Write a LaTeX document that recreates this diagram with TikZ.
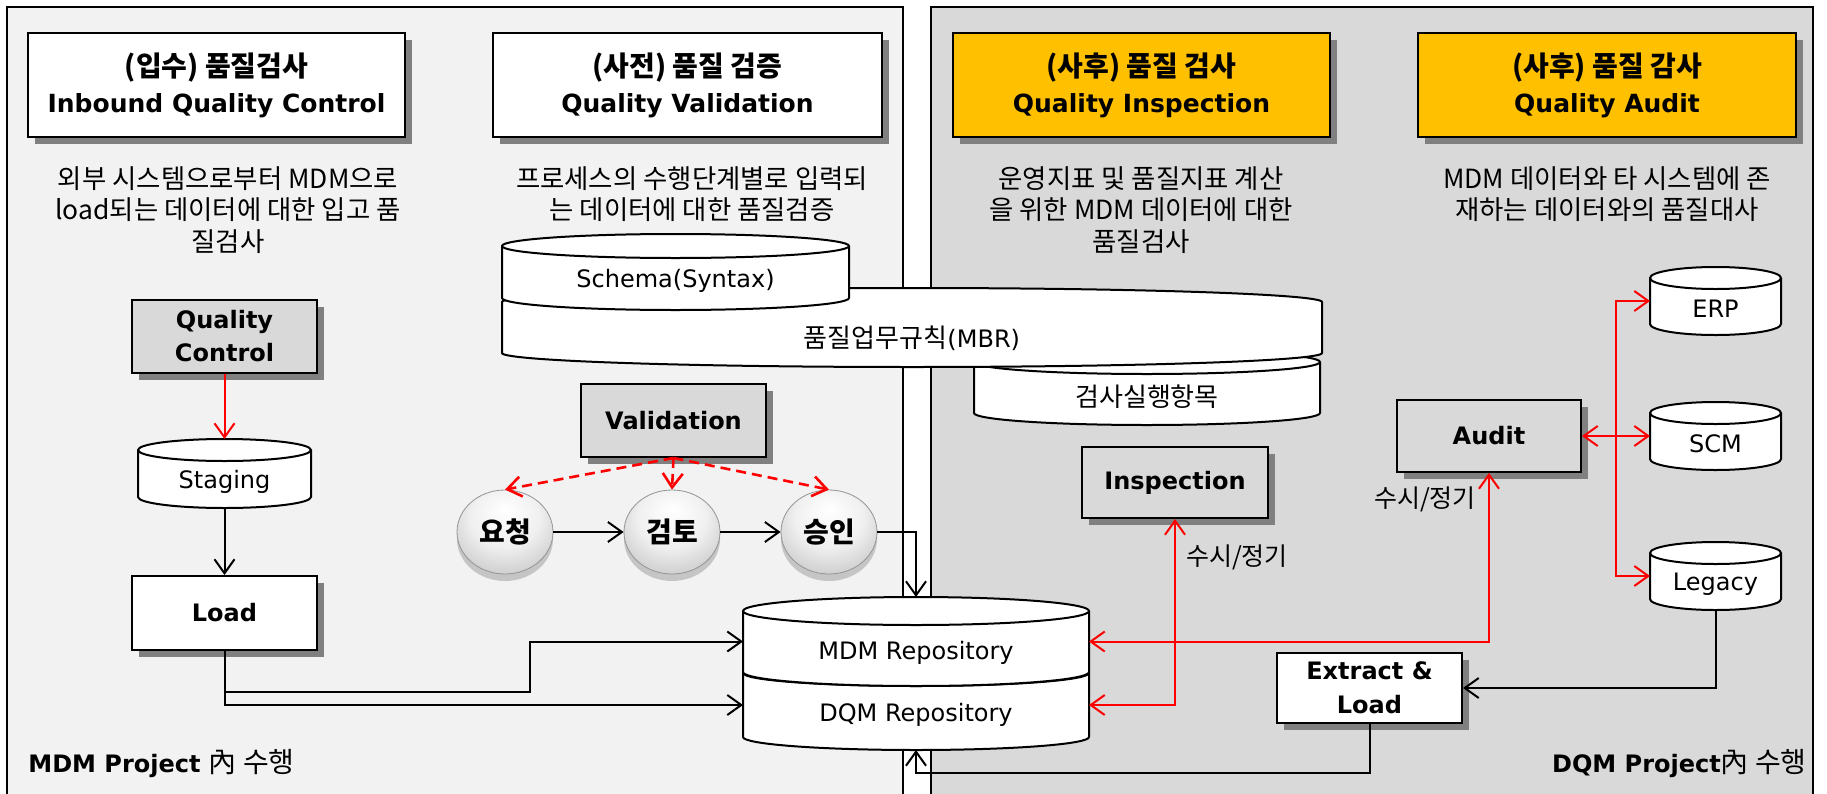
\documentclass[tikz,border=0pt]{standalone}
\usepackage{fontspec}
\setmainfont{DejaVu Sans}
\newfontfamily\krfont{Noto Sans CJK KR}
\usetikzlibrary{arrows.meta,shapes.geometric,shadows,calc}

\newlength{\du}
\setlength{\du}{0.5pt}

\definecolor{panelleft}{RGB}{242,242,242}
\definecolor{panelright}{RGB}{217,217,217}
\definecolor{hdrgold}{RGB}{255,192,0}
\definecolor{boxgray}{RGB}{217,217,217}
\definecolor{shadowgray}{RGB}{128,128,128}
\definecolor{linkred}{RGB}{255,0,0}

\newcommand{\kr}[1]{{\krfont\fontsize{13pt}{15pt}\selectfont #1}}
\newcommand{\krtitle}[1]{{\krfont\fontsize{14pt}{18pt}\selectfont #1}}

\pgfdeclareradialshading{ballgray}{\pgfpoint{0bp}{14bp}}{%
  color(0bp)=(white); color(18bp)=(white!94!black); color(36bp)=(white!76!black); color(50bp)=(white!60!black)}

\tikzset{
  boxshadow/.style={drop shadow={shadow xshift=3.5pt,shadow yshift=-3.5pt,fill=shadowgray,opacity=1}},
  hdrbox/.style={draw=black,line width=1pt,minimum height=104\du,align=center,
    font=\bfseries\fontsize{12.5pt}{18pt}\selectfont,boxshadow},
  graybox/.style={draw=black,line width=1pt,fill=boxgray,minimum width=185\du,minimum height=73\du,
    align=center,font=\bfseries\fontsize{12pt}{16.5pt}\selectfont,boxshadow},
  whitebox/.style={graybox,fill=white},
  desctext/.style={anchor=north,align=center,inner sep=0pt,font=\krfont\fontsize{13.2pt}{15.8pt}\selectfont},
  ballnode/.style={ellipse,minimum width=96\du,minimum height=84\du,draw=white!58!black,line width=0.4pt,
    shading=ballgray,font=\krfont\bfseries\fontsize{14pt}{16pt}\selectfont,
    drop shadow={shadow xshift=0pt,shadow yshift=-3.5pt,fill=black!40,opacity=.5}},
  canline/.style={draw=black,line width=1pt,fill=white},
  canarea/.style={rectangle,inner sep=0pt,outer sep=0pt,draw=none},
  cantext/.style={inner sep=0pt,font=\fontsize{12pt}{14pt}\selectfont},
  freqtext/.style={inner sep=0pt,font=\krfont\fontsize{12.5pt}{14pt}\selectfont},
  scopetext/.style={inner sep=0pt,font=\bfseries\fontsize{12pt}{14pt}\selectfont},
  blacklink/.style={draw=black,line width=1pt,-{Straight Barb[length=7pt,width=10pt]}},
  redlink/.style={blacklink,draw=linkred},
  redboth/.style={draw=linkred,line width=1pt,{Straight Barb[length=7pt,width=10pt]}-{Straight Barb[length=7pt,width=10pt]}},
  reddash/.style={redlink,line width=1.3pt,dash pattern=on 5pt off 3pt}
}

% database can: [front arc] name x1 x2 ytop ybot ry text
\newcommand{\dbcan}[8][draw=black]{%
  \pgfmathsetmacro{\cancx}{(#3+#4)/2}%
  \pgfmathsetmacro{\canrx}{(#4-#3)/2}%
  \pgfmathsetmacro{\canyt}{#5+#7}%
  \pgfmathsetmacro{\canyb}{#6-#7}%
  \pgfmathsetmacro{\canw}{#4-#3}%
  \pgfmathsetmacro{\canh}{#6-#5}%
  \pgfmathsetmacro{\cancy}{(#5+#6)/2}%
  \pgfmathsetmacro{\canty}{(#5+2*#7+#6)/2-3}%
  \path[canline] (#3\du,\canyt\du) -- (#3\du,\canyb\du)
    arc[start angle=180,end angle=0,x radius=\canrx\du,y radius=#7\du] -- (#4\du,\canyt\du)
    arc[start angle=0,end angle=-180,x radius=\canrx\du,y radius=#7\du] -- cycle;
  \path[#1,line width=1pt] (#3\du,\canyt\du) arc[start angle=180,end angle=0,x radius=\canrx\du,y radius=#7\du];
  \node[canarea,minimum width=\canw\du,minimum height=\canh\du] (#2) at (\cancx\du,\cancy\du) {};
  \node[cantext] (#2-label) at (\cancx\du,\canty\du) {#8};
}

\begin{document}
\begin{tikzpicture}
\pgftransformyscale{-1.000000}
\useasboundingbox (0\du,0\du) rectangle (1827\du,793\du);
\clip (0\du,0\du) rectangle (1827\du,793\du);

% panels
\path[draw=black,line width=1pt,fill=panelleft] (7\du,7\du) rectangle (903\du,830\du);
\path[draw=black,line width=1pt,fill=panelright] (931\du,7\du) rectangle (1813\du,830\du);

% headers
\node[hdrbox,fill=white,minimum width=377\du] (inboundhdr) at (216.5\du,85\du) {\krtitle{(입수) 품질검사}\\Inbound Quality Control};
\node[hdrbox,fill=white,minimum width=389\du] (validhdr) at (687.5\du,85\du) {\krtitle{(사전) 품질 검증}\\Quality Validation};
\node[hdrbox,fill=hdrgold,minimum width=377\du] (inspecthdr) at (1141.5\du,85\du) {\krtitle{(사후) 품질 검사}\\Quality Inspection};
\node[hdrbox,fill=hdrgold,minimum width=378\du] (audithdr) at (1607\du,85\du) {\krtitle{(사후) 품질 감사}\\Quality Audit};

\node[desctext] (inbounddesc) at (228\du,166\du) {외부 시스템으로부터 MDM으로\\load되는 데이터에 대한 입고 품\\질검사};
\node[desctext] (validdesc) at (692\du,166\du) {프로세스의 수행단계별로 입력되\\는 데이터에 대한 품질검증};
\node[desctext] (inspectdesc) at (1141\du,166\du) {운영지표 및 품질지표 계산\\을 위한 MDM 데이터에 대한\\품질검사};
\node[desctext] (auditdesc) at (1607\du,166\du) {MDM 데이터와 타 시스템에 존\\재하는 데이터와의 품질대사};

% inbound column
\node[graybox] (qcbox) at (224.5\du,336.5\du) {Quality\\Control};
\dbcan{staging}{138}{311}{439}{508}{11}{Staging}
\node[whitebox,minimum height=74\du] (loadbox) at (224.5\du,613\du) {Load};

% rule cans
\dbcan{checkcan}{974}{1320}{350}{425}{12}{\kr{검사실행항목}}
\dbcan[draw=none]{mbrcan}{502}{1322}{288}{367}{14}{\kr{품질업무규칙}(MBR)}
\dbcan{schemacan}{502}{849}{234}{310}{12}{Schema(Syntax)}

% validation flow
\node[graybox] (validbox) at (673.5\du,420.5\du) {Validation};
\node[ballnode] (reqball) at (505\du,532\du) {요청};
\node[ballnode] (revball) at (672\du,532\du) {검토};
\node[ballnode] (apprball) at (829\du,532\du) {승인};

% repositories
\dbcan{dqmcan}{743}{1089}{660}{750}{13}{DQM Repository}
\dbcan{mdmcan}{743}{1089}{597}{686}{14}{MDM Repository}

% right side
\node[graybox,minimum width=186\du,minimum height=71\du] (inspbox) at (1175\du,482.5\du) {Inspection};
\node[graybox,minimum width=184\du,minimum height=72\du] (auditbox) at (1489\du,436\du) {Audit};
\dbcan{erpcan}{1650}{1781}{267}{335}{11}{ERP}
\dbcan{scmcan}{1650}{1781}{402}{470}{11}{SCM}
\dbcan{legacycan}{1650}{1781}{542}{610}{11}{Legacy}
\node[whitebox,minimum height=70\du,font=\bfseries\fontsize{12pt}{17pt}\selectfont] (extractbox) at (1369.5\du,688\du) {Extract \&\\Load};

% connectors
\draw[redlink] (qcbox.south) -- (staging.north);
\draw[blacklink] (staging.south) -- (loadbox.north);
\draw[blacklink] (loadbox.south) |- (dqmcan.west);
\coordinate (loadsplit) at (224.5\du,692\du);
\coordinate (loadbend) at (530\du,692\du);
\draw[blacklink] (loadsplit) -- (loadbend) |- (mdmcan.west);

\draw[reddash] (validbox.south) -- (reqball.north);
\draw[reddash] (validbox.south) -- (revball.north);
\draw[reddash] (validbox.south) -- (apprball.north);
\draw[blacklink] (reqball) -- (revball);
\draw[blacklink] (revball) -- (apprball);
\draw[blacklink] (apprball.east) -| (mdmcan.north);

\draw[redboth] (inspbox.south) |- (dqmcan.east);
\draw[redboth] (auditbox.south) |- (mdmcan.east);
\draw[redboth] (auditbox.east) -- (scmcan.west);
\coordinate (audithub) at ($(auditbox.east)!0.5!(scmcan.west)$);
\draw[redlink] (audithub) |- (erpcan.west);
\draw[redlink] (audithub) |- (legacycan.west);

\draw[blacklink] (legacycan.south) |- (extractbox.east);
\draw[blacklink] (extractbox.south) -- ++(0\du,49\du) -| (dqmcan.south);

\node[freqtext] (inspfreq) at (1237\du,557\du) {수시/정기};
\node[freqtext] (auditfreq) at (1425\du,499\du) {수시/정기};

% scope captions
\node[scopetext,anchor=west] (mdmscope) at (28\du,764\du) {MDM Project {\krfont\mdseries\fontsize{14pt}{16pt}\selectfont 內 수행}};
\node[scopetext,anchor=east] (dqmscope) at (1807\du,764\du) {DQM Project{\krfont\mdseries\fontsize{14pt}{16pt}\selectfont 內 수행}};
\end{tikzpicture}
\end{document}
